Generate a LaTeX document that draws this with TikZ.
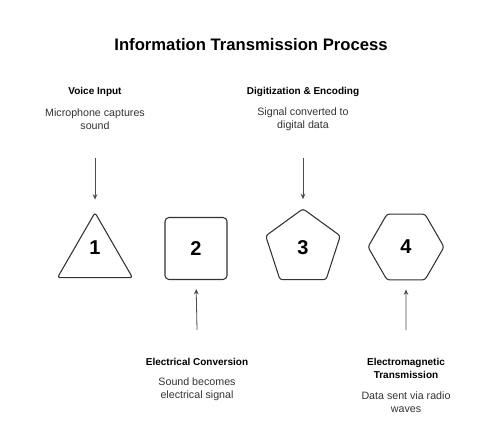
\documentclass[tikz,border=0pt]{standalone}
\usepackage{fontspec}
\setmainfont{Liberation Sans}
\usetikzlibrary{shapes.geometric,arrows.meta}

\begin{document}
\begin{tikzpicture}[x=0.75pt,y=-0.75pt,
    polyshape/.style={draw=black!80, line width=0.8pt, inner sep=0pt, rounded corners=2pt},
    num/.style={font=\fontsize{15}{17}\selectfont\bfseries},
    head/.style={font=\fontsize{7.5}{9.75}\selectfont\bfseries, align=center},
    desc/.style={font=\fontsize{8}{9.75}\selectfont, align=center, text=black!80},
    flow/.style={draw=black!70, line width=0.6pt, -{Stealth[length=4pt,width=3.5pt]}}]
    \useasboundingbox (0,0) rectangle (479,428);

    \node[font=\fontsize{12.5}{15}\selectfont\bfseries] (title) at (251,45) {Information Transmission Process};

    % the four stages
    \node[polyshape, regular polygon, regular polygon sides=3, minimum size=65pt,
          label={[num,yshift=6pt]center:1}] (t1) at (95,256) {};
    \node[polyshape, rectangle, minimum size=46.5pt, rounded corners=3pt, num] (t2) at (196,248.5) {2};
    \node[polyshape, regular polygon, regular polygon sides=5, minimum size=58.8pt, num] (t3) at (303,248) {3};
    \node[polyshape, regular polygon, regular polygon sides=6, minimum size=57pt, num] (t4) at (406,247) {4};

    % texts above
    \node[head] (h1) at (95,92) {Voice Input};
    \node[desc] (d1) at (95,119.5) {Microphone captures\\sound};
    \node[head] (h3) at (303,92) {Digitization \& Encoding};
    \node[desc] (d3) at (303,119.5) {Signal converted to\\digital data};

    % texts below
    \node[head] (h2) at (197,362) {Electrical Conversion};
    \node[desc] (d2) at (197,389.5) {Sound becomes\\electrical signal};
    \node[head] (h4) at (406,368.5) {Electromagnetic\\Transmission};
    \node[desc] (d4) at (406,402.5) {Data sent via radio\\waves};

    % arrows
    \coordinate (s1) at (95,158);
    \coordinate (s3) at (303,158);
    \coordinate (s2) at (197,330);
    \coordinate (s4) at (406,330);
    \draw[flow, shorten >=9pt] (s1) -- (t1.corner 1);
    \draw[flow, shorten >=6.75pt] (s3) -- (t3.corner 1);
    \draw[flow, shorten >=6.75pt] (s2) -- (t2.south);
    \draw[flow, shorten >=6.75pt] (s4) -- (t4.south);
\end{tikzpicture}
\end{document}
